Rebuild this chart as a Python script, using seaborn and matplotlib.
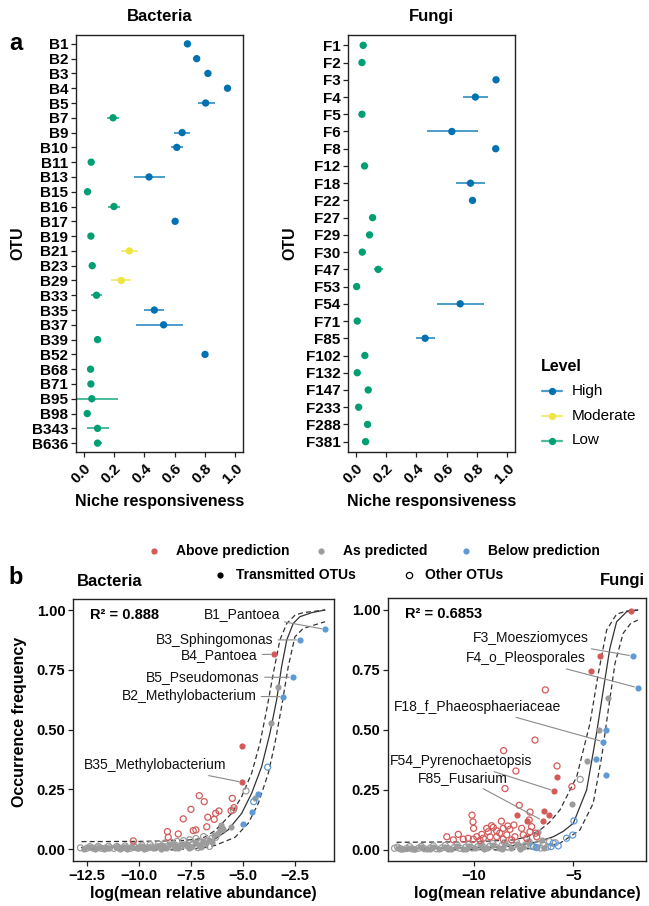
import matplotlib
matplotlib.use("Agg")
import matplotlib.pyplot as plt
from matplotlib.lines import Line2D
import pandas as pd
import seaborn as sns

sns.set_theme(style="ticks")
plt.rcParams['font.family'] = ['Liberation Sans', 'DejaVu Sans']
plt.rcParams['text.color'] = 'black'
plt.rcParams['axes.labelcolor'] = 'black'
plt.rcParams['axes.linewidth'] = 1.0
plt.rcParams['axes.edgecolor'] = '#222222'
plt.rcParams['xtick.color'] = '#222222'
plt.rcParams['ytick.color'] = '#222222'
plt.rcParams['xtick.major.size'] = 3.5
plt.rcParams['ytick.major.size'] = 3.5
plt.rcParams['xtick.major.width'] = 0.9
plt.rcParams['ytick.major.width'] = 0.9

# ---------------- Panel a data ----------------
bac_otus = ["B1", "B2", "B3", "B4", "B5", "B7", "B9", "B10", "B11", "B13", "B15", "B16", "B17", "B19",
            "B21", "B23", "B29", "B33", "B35", "B37", "B39", "B52", "B68", "B71", "B95", "B98", "B343", "B636"]
bac_resp = [0.684, 0.745, 0.819, 0.948, 0.804, 0.194, 0.649, 0.614, 0.050, 0.431, 0.026, 0.200, 0.603, 0.048,
            0.301, 0.057, 0.248, 0.085, 0.466, 0.527, 0.092, 0.800, 0.046, 0.048, 0.054, 0.024, 0.092, 0.092]
bac_lo = [0.678, 0.740, 0.813, 0.942, 0.754, 0.155, 0.597, 0.575, 0.045, 0.331, 0.021, 0.161, 0.598, 0.043,
          0.248, 0.050, 0.183, 0.048, 0.401, 0.342, 0.075, 0.795, 0.030, 0.035, -0.080, 0.019, 0.020, 0.075]
bac_hi = [0.690, 0.750, 0.825, 0.954, 0.863, 0.235, 0.704, 0.656, 0.055, 0.534, 0.031, 0.237, 0.608, 0.053,
          0.357, 0.064, 0.314, 0.122, 0.531, 0.654, 0.110, 0.805, 0.065, 0.060, 0.229, 0.029, 0.165, 0.120]
bac_level = ["High", "High", "High", "High", "High", "Low", "High", "High", "Low", "High", "Low", "Low", "High", "Low",
             "Moderate", "Low", "Moderate", "Low", "High", "High", "Low", "High", "Low", "Low", "Low", "Low", "Low", "Low"]

fun_otus = ["F1", "F2", "F3", "F4", "F5", "F6", "F8", "F12", "F18", "F22", "F27", "F29", "F30", "F47",
            "F53", "F54", "F71", "F85", "F102", "F132", "F147", "F233", "F288", "F381"]
fun_resp = [0.050, 0.042, 0.925, 0.789, 0.042, 0.634, 0.923, 0.059, 0.757, 0.770, 0.112, 0.092, 0.044, 0.149,
            0.007, 0.689, 0.011, 0.458, 0.061, 0.011, 0.083, 0.020, 0.079, 0.066]
fun_lo = [0.045, 0.037, 0.920, 0.706, 0.037, 0.469, 0.918, 0.054, 0.664, 0.765, 0.107, 0.087, 0.039, 0.120,
          0.002, 0.537, 0.006, 0.401, 0.040, 0.006, 0.078, 0.015, 0.074, 0.040]
fun_hi = [0.055, 0.047, 0.930, 0.873, 0.047, 0.803, 0.928, 0.064, 0.855, 0.775, 0.117, 0.097, 0.049, 0.180,
          0.012, 0.844, 0.016, 0.520, 0.085, 0.016, 0.088, 0.025, 0.084, 0.090]
fun_level = ["Low", "Low", "High", "High", "Low", "High", "High", "Low", "High", "High", "Low", "Low", "Low", "Low",
             "Low", "High", "Low", "High", "Low", "Low", "Low", "Low", "Low", "Low"]

level_order = ["High", "Moderate", "Low"]
level_colors = {"High": "#0072B2", "Moderate": "#F0E442", "Low": "#009E73"}
resp_ticks = [0.0, 0.2, 0.4, 0.6, 0.8, 1.0]

# ---------------- Panel b data ----------------
# Bacteria
bac_above_trans = [(-3.48, 0.815), (-5.02, 0.433), (-5.02, 0.280)]
bac_above_other = [(-7.09, 0.224), (-6.85, 0.199), (-7.49, 0.167), (-7.86, 0.127), (-6.30, 0.150), (-6.14, 0.160),
                   (-6.37, 0.125), (-6.68, 0.134), (-5.50, 0.213), (-5.42, 0.174), (-5.56, 0.161), (-8.62, 0.074),
                   (-8.58, 0.050), (-8.10, 0.064), (-7.38, 0.078), (-7.25, 0.081), (-10.26, 0.035), (-6.73, 0.094)]
bac_below_trans = [(-1.04, 0.919), (-2.25, 0.875), (-2.60, 0.719), (-3.05, 0.638), (-4.25, 0.230), (-4.54, 0.155),
                   (-5.00, 0.106)]
bac_below_other = [(-3.80, 0.343), (-4.47, 0.199)]
bac_pred_trans = [(-12.4, 0.008), (-12.1, 0.003), (-11.9, 0.010), (-11.5, 0.007), (-11.1, 0.009), (-10.9, 0.003),
                  (-10.7, 0.011), (-10.3, 0.010), (-10.1, 0.004), (-9.9, 0.012), (-9.5, 0.011), (-9.3, 0.004),
                  (-9.1, 0.015), (-8.9, 0.016), (-8.7, 0.005), (-8.5, 0.020), (-8.3, 0.018), (-8.1, 0.006),
                  (-7.9, 0.024), (-7.7, 0.022), (-7.5, 0.008), (-7.3, 0.030), (-7.1, 0.015), (-6.9, 0.035),
                  (-6.6, 0.040), (-6.4, 0.060), (-6.2, 0.070), (-6.1, 0.080), (-6.05, 0.100), (-6.0, 0.090),
                  (-5.95, 0.085), (-5.56, 0.094), (-4.41, 0.216), (-3.64, 0.529), (-3.29, 0.677),
                  (-12.65, 0.002), (-11.65, 0.002), (-10.55, 0.002), (-9.75, 0.003), (-8.95, 0.002), (-8.25, 0.004),
                  (-7.6, 0.004), (-7.0, 0.010), (-6.75, 0.025), (-6.5, 0.030)]
bac_pred_other = [(-12.8, 0.006), (-12.5, 0.004), (-12.2, 0.005), (-12.0, 0.006), (-11.8, 0.004), (-11.6, 0.005),
                  (-11.4, 0.006), (-11.2, 0.004), (-11.0, 0.007), (-10.8, 0.005), (-10.6, 0.006), (-10.4, 0.004),
                  (-10.2, 0.008), (-10.0, 0.005), (-9.8, 0.007), (-9.6, 0.005), (-9.4, 0.009), (-9.2, 0.006),
                  (-9.0, 0.011), (-8.8, 0.007), (-8.6, 0.013), (-8.4, 0.008), (-8.2, 0.016), (-8.0, 0.010),
                  (-7.8, 0.018), (-7.6, 0.012), (-7.4, 0.022), (-7.16, 0.007), (-7.0, 0.028), (-6.88, 0.053),
                  (-6.7, 0.035), (-6.5, 0.045), (-6.3, 0.050), (-5.45, 0.164), (-4.84, 0.244),
                  (-12.35, 0.011), (-11.95, 0.012), (-11.45, 0.013), (-11.05, 0.012), (-10.65, 0.014),
                  (-10.25, 0.016), (-9.85, 0.017), (-9.45, 0.019), (-9.05, 0.022), (-8.75, 0.026), (-8.45, 0.030),
                  (-8.15, 0.033), (-7.85, 0.036), (-7.55, 0.040), (-7.25, 0.045), (-6.95, 0.020), (-6.6, 0.012)]
bac_fit_x = [-12.75, -10.0, -8.0, -7.2, -6.6, -6.3, -5.7, -5.05, -4.57, -4.09, -3.69, -3.37, -3.13, -2.88,
             -2.57, -2.25, -1.68, -1.04]
bac_fit_y = [0.008, 0.009, 0.012, 0.018, 0.030, 0.045, 0.081, 0.150, 0.234, 0.345, 0.485, 0.624, 0.763, 0.875,
             0.944, 0.972, 0.989, 1.000]
bac_upr_x = [-12.75, -10.0, -8.0, -7.2, -6.8, -6.33, -5.53, -5.05, -4.57, -4.17, -3.85, -3.53, -3.21, -2.88,
             -2.48, -2.09, -1.04]
bac_upr_y = [0.032, 0.033, 0.036, 0.042, 0.052, 0.078, 0.150, 0.220, 0.318, 0.443, 0.582, 0.735, 0.875, 0.944,
             0.979, 0.989, 1.000]
bac_lwr_x = [-12.75, -8.0, -7.0, -6.33, -5.37, -4.73, -4.25, -3.77, -3.45, -3.13, -2.81, -2.49, -2.09, -1.04]
bac_lwr_y = [0.000, 0.000, 0.004, 0.016, 0.050, 0.109, 0.192, 0.318, 0.443, 0.596, 0.763, 0.888, 0.923, 0.951]
bac_labels = ["B1_Pantoea", "B3_Sphingomonas", "B4_Pantoea", "B5_Pseudomonas", "B2_Methylobacterium",
              "B35_Methylobacterium"]
bac_label_pts = [(-1.04, 0.919), (-2.25, 0.875), (-3.48, 0.815), (-2.60, 0.719), (-3.05, 0.638), (-5.02, 0.280)]
bac_label_pos = [(-3.21, 0.983), (-3.53, 0.875), (-4.28, 0.812), (-4.17, 0.719), (-4.33, 0.639), (-5.77, 0.352)]

# Fungi
fun_above_trans = [(-2.11, 0.997), (-3.66, 0.808), (-4.13, 0.747), (-5.84, 0.303), (-5.96, 0.246), (-6.46, 0.161),
                   (-6.24, 0.146), (-6.54, 0.122), (-7.82, 0.147), (-7.35, 0.120)]
fun_above_other = [(-6.41, 0.667), (-6.93, 0.458), (-8.51, 0.414), (-7.89, 0.329), (-8.44, 0.256), (-5.82, 0.350),
                   (-7.72, 0.186), (-7.18, 0.158), (-5.07, 0.264), (-10.10, 0.145), (-10.05, 0.117), (-10.02, 0.090),
                   (-8.62, 0.120), (-9.12, 0.101), (-11.37, 0.055), (-10.79, 0.065), (-9.36, 0.090), (-9.28, 0.076),
                   (-9.03, 0.094), (-8.86, 0.080), (-8.53, 0.090), (-8.19, 0.086), (-7.99, 0.104), (-7.60, 0.090),
                   (-7.22, 0.125), (-7.10, 0.097), (-7.18, 0.076), (-9.61, 0.065), (-9.86, 0.055), (-10.29, 0.049),
                   (-10.54, 0.045), (-11.04, 0.042), (-8.35, 0.063), (-7.94, 0.055), (-6.84, 0.055), (-8.10, 0.042),
                   (-8.86, 0.055), (-9.19, 0.055), (-9.53, 0.049), (-10.03, 0.045), (-8.53, 0.045), (-7.52, 0.063),
                   (-7.35, 0.049), (-8.70, 0.070), (-9.70, 0.040), (-8.30, 0.100), (-6.90, 0.070)]
fun_below_trans = [(-2.01, 0.808), (-1.76, 0.676), (-3.37, 0.500), (-3.49, 0.451), (-3.86, 0.380), (-3.36, 0.311)]
fun_below_other = [(-4.97, 0.121), (-5.03, 0.062), (-5.34, 0.049), (-6.01, 0.028), (-5.76, 0.017), (-6.12, 0.014),
                   (-6.84, 0.010), (-7.00, 0.014)]
fun_pred_trans = [(-13.85, 0.010), (-13.55, 0.003), (-13.25, 0.009), (-12.95, 0.004), (-12.65, 0.011),
                  (-12.35, 0.004), (-12.05, 0.012), (-11.75, 0.005), (-11.45, 0.014), (-11.15, 0.006),
                  (-10.85, 0.016), (-10.55, 0.006), (-10.25, 0.018), (-9.95, 0.007), (-9.65, 0.020), (-9.35, 0.008),
                  (-9.05, 0.022), (-8.75, 0.009), (-8.45, 0.024), (-8.15, 0.010), (-7.85, 0.026), (-7.55, 0.012),
                  (-7.25, 0.030), (-7.21, 0.039), (-6.95, 0.014), (-6.76, 0.074), (-6.60, 0.040), (-5.08, 0.190),
                  (-4.33, 0.372), (-3.69, 0.500), (-3.24, 0.635),
                  (-13.7, 0.002), (-13.0, 0.002), (-12.2, 0.002), (-11.3, 0.002), (-10.4, 0.003), (-9.5, 0.003),
                  (-8.6, 0.003), (-7.7, 0.004), (-6.5, 0.010)]
fun_pred_other = [(-14.0, 0.007), (-13.7, 0.005), (-13.4, 0.006), (-13.1, 0.004), (-12.8, 0.007), (-12.5, 0.005),
                  (-12.2, 0.008), (-11.9, 0.005), (-11.6, 0.009), (-11.3, 0.006), (-11.0, 0.010), (-10.7, 0.007),
                  (-10.4, 0.012), (-10.1, 0.008), (-9.8, 0.014), (-9.5, 0.009), (-9.2, 0.016), (-8.9, 0.010),
                  (-8.6, 0.018), (-8.3, 0.012), (-8.0, 0.020), (-7.7, 0.014), (-7.4, 0.022), (-7.1, 0.016),
                  (-6.8, 0.025), (-6.5, 0.020), (-6.2, 0.035), (-5.9, 0.030), (-4.65, 0.294),
                  (-13.85, 0.012), (-13.25, 0.014), (-12.65, 0.015), (-12.05, 0.017), (-11.45, 0.019),
                  (-10.85, 0.021), (-10.25, 0.023), (-9.65, 0.025), (-9.05, 0.027), (-8.45, 0.029),
                  (-7.85, 0.031), (-7.25, 0.033), (-6.65, 0.008), (-6.3, 0.012)]
fun_fit_x = [-13.9, -10.0, -8.5, -7.68, -6.8, -6.01, -5.5, -5.0, -4.33, -3.83, -3.49, -3.16, -2.82, -2.31, -1.75]
fun_fit_y = [0.007, 0.009, 0.013, 0.021, 0.034, 0.055, 0.078, 0.111, 0.250, 0.486, 0.667, 0.840, 0.951, 0.993, 1.000]
fun_upr_x = [-13.9, -10.0, -8.0, -7.3, -6.68, -6.2, -5.67, -4.83, -4.16, -3.74, -3.32, -2.82, -2.3, -1.75]
fun_upr_y = [0.032, 0.034, 0.042, 0.055, 0.083, 0.115, 0.167, 0.305, 0.528, 0.736, 0.917, 0.983, 0.996, 1.000]
fun_lwr_x = [-13.9, -8.0, -6.84, -5.67, -4.67, -4.00, -3.57, -3.24, -2.90, -2.49, -2.1, -1.75]
fun_lwr_y = [0.000, 0.002, 0.007, 0.028, 0.083, 0.194, 0.389, 0.583, 0.778, 0.903, 0.945, 0.958]
fun_labels = ["F3_Moesziomyces", "F4_o_Pleosporales", "F18_f_Phaeosphaeriaceae", "F54_Pyrenochaetopsis",
              "F85_Fusarium"]
fun_label_pts = [(-2.01, 0.808), (-1.76, 0.676), (-3.49, 0.451), (-5.96, 0.246), (-6.54, 0.122)]
fun_label_pos = [(-4.20, 0.882), (-4.36, 0.799), (-5.59, 0.597), (-7.08, 0.371), (-8.30, 0.301)]

class_colors = {"Above prediction": "#D45A5A", "As predicted": "#9C9C9C", "Below prediction": "#5E9AD6"}

W, H = 649, 906
fig = plt.figure(figsize=(W / 100, H / 100), dpi=100)


def add_ax(l, t, r, b):
    return fig.add_axes([l / W, 1 - b / H, (r - l) / W, (b - t) / H])


def fx(px):
    return px / W


def fy(py):
    return 1 - py / H


def bold_ticks(ax):
    for lab in ax.get_xticklabels() + ax.get_yticklabels():
        lab.set_fontweight('bold')
        lab.set_color('black')


def niche_panel(ax, otus, resp, lo, hi, level):
    df = pd.DataFrame(dict(otu=otus, resp=resp, lo=lo, hi=hi, level=level))
    sns.scatterplot(data=df, x="resp", y="otu", hue="level", hue_order=level_order, palette=level_colors,
                    s=28, linewidth=0, legend=False, ax=ax, zorder=3)
    for lev in level_order:
        sub = df[df["level"] == lev]
        if len(sub):
            ax.hlines(sub["otu"], sub["lo"], sub["hi"], color=level_colors[lev], alpha=0.7, lw=1.4, zorder=2)
    n = len(otus)
    ax.set_ylim(n - 0.4, -0.6)
    ax.set_xlim(-0.05, 1.05)
    ax.set_xticks(resp_ticks)
    ax.set_xticklabels([f"{t:.1f}" for t in resp_ticks], rotation=45, ha="right", va="top",
                       rotation_mode="anchor", fontsize=11)
    ax.tick_params(axis="y", labelsize=11, pad=2)
    ax.tick_params(axis="x", pad=3)
    ax.set_xlabel("Niche responsiveness", fontsize=11.5, fontweight="bold")
    ax.set_ylabel("OTU", fontsize=11.5, fontweight="bold")
    ax.xaxis.set_label_coords(0.5, -0.1)
    ax.yaxis.set_label_coords(-0.35, 0.5)
    ax.yaxis.label.set_va("center")
    bold_ticks(ax)


ax_a1 = add_ax(76, 35, 243, 452)
niche_panel(ax_a1, bac_otus, bac_resp, bac_lo, bac_hi, bac_level)
ax_a2 = add_ax(348, 35, 515, 452)
niche_panel(ax_a2, fun_otus, fun_resp, fun_lo, fun_hi, fun_level)
ax_a2.yaxis.set_label_coords(-0.347, 0.5)

fig.text(fx(159.5), fy(16.5), "Bacteria", ha="center", va="center", fontsize=12, fontweight="bold")
fig.text(fx(431), fy(17), "Fungi", ha="center", va="center", fontsize=12, fontweight="bold")
fig.text(fx(15.5), fy(43), "a", ha="center", va="center", fontsize=17, fontweight="bold")
fig.text(fx(15.5), fy(578), "b", ha="center", va="center", fontsize=17, fontweight="bold")

# Level legend
fig.text(fx(540.5), fy(366), "Level", ha="left", va="center", fontsize=11.5, fontweight="bold")
for i, lev in enumerate(level_order):
    yy = [390.5, 415.5, 440.5][i]
    fig.add_artist(Line2D([fx(541.5), fx(561.5)], [fy(yy), fy(yy)], transform=fig.transFigure,
                          color=level_colors[lev], alpha=0.7, lw=1.6))
    fig.add_artist(Line2D([fx(551.5)], [fy(yy)], transform=fig.transFigure, marker="o", ms=5.2,
                          color=level_colors[lev], mew=0, lw=0))
    fig.text(fx(571.5), fy(yy), lev, ha="left", va="center", fontsize=11)


def neutral_panel(ax, above_t, above_o, pred_t, pred_o, below_t, below_o,
                  fit, upr, lwr, labels, label_pts, label_pos, r2, xlim, ylim, xticks):
    sns.lineplot(x=upr[0], y=upr[1], sort=False, estimator=None, color="#333333", lw=0.9, ls=(0, (4, 2.5)),
                 ax=ax, zorder=2)
    sns.lineplot(x=lwr[0], y=lwr[1], sort=False, estimator=None, color="#333333", lw=0.9, ls=(0, (4, 2.5)),
                 ax=ax, zorder=2)
    sns.lineplot(x=fit[0], y=fit[1], sort=False, estimator=None, color="#333333", lw=0.9, ax=ax, zorder=2)
    groups = [(pred_o, "As predicted", False), (pred_t, "As predicted", True),
              (above_o, "Above prediction", False), (below_o, "Below prediction", False),
              (above_t, "Above prediction", True), (below_t, "Below prediction", True)]
    for pts, cls, filled in groups:
        d = pd.DataFrame(pts, columns=["x", "y"])
        c = class_colors[cls]
        if filled:
            sns.scatterplot(data=d, x="x", y="y", color=c, s=20, linewidth=0, ax=ax, zorder=3)
        else:
            sns.scatterplot(data=d, x="x", y="y", facecolor="none", edgecolor=c, color=c, s=19,
                            linewidth=0.9, ax=ax, zorder=3)
    for lab, pt, pos in zip(labels, label_pts, label_pos):
        ax.annotate(lab, xy=pt, xytext=pos, ha="right", va="center", fontsize=10, color="#111111",
                    arrowprops=dict(arrowstyle="-", color="#8a8a8a", lw=0.8, shrinkA=1, shrinkB=2.5),
                    zorder=4)
    ax.text(0.065, 0.94, r2, transform=ax.transAxes, ha="left", va="center", fontsize=10.5, fontweight="bold")
    ax.set_xlim(*xlim)
    ax.set_ylim(*ylim)
    ax.set_xticks(xticks)
    ax.set_xticklabels(["\u2212" + f"{abs(t):g}" if t < 0 else f"{t:g}" for t in xticks])
    ax.set_yticks([0.0, 0.25, 0.5, 0.75, 1.0])
    ax.set_yticklabels(["0.00", "0.25", "0.50", "0.75", "1.00"])
    ax.tick_params(labelsize=10.5, pad=2)
    ax.set_xlabel("log(mean relative abundance)", fontsize=11.5, fontweight="bold")
    ax.set_ylabel("Occurrence frequency", fontsize=11.5, fontweight="bold")
    bold_ticks(ax)


ax_b1 = add_ax(73, 599, 334, 861)
neutral_panel(ax_b1, bac_above_trans, bac_above_other, bac_pred_trans, bac_pred_other,
              bac_below_trans, bac_below_other, (bac_fit_x, bac_fit_y), (bac_upr_x, bac_upr_y),
              (bac_lwr_x, bac_lwr_y), bac_labels, bac_label_pts, bac_label_pos, "R\u00b2 = 0.888",
              (-13.16, -0.61), (-0.049, 1.046), [-12.5, -10.0, -7.5, -5.0, -2.5])
ax_b1.set_xticklabels(["\u221212.5", "\u221210.0", "\u22127.5", "\u22125.0", "\u22122.5"])
bold_ticks(ax_b1)
ax_b1.xaxis.set_label_coords(0.5, -0.095)
ax_b1.yaxis.set_label_coords(-0.205, 0.53)
ax_b1.yaxis.label.set_va("center")

ax_b2 = add_ax(388, 598, 646, 861)
neutral_panel(ax_b2, fun_above_trans, fun_above_other, fun_pred_trans, fun_pred_other,
              fun_below_trans, fun_below_other, (fun_fit_x, fun_fit_y), (fun_upr_x, fun_upr_y),
              (fun_lwr_x, fun_lwr_y), fun_labels, fun_label_pts, fun_label_pos, "R\u00b2 = 0.6853",
              (-14.33, -1.34), (-0.046, 1.05), [-10, -5])
ax_b2.set_ylabel("")
ax_b2.xaxis.set_label_coords(0.54, -0.095)

fig.text(fx(77), fy(582), "Bacteria", ha="left", va="center", fontsize=12, fontweight="bold")
fig.text(fx(645), fy(581), "Fungi", ha="right", va="center", fontsize=12, fontweight="bold")

# top legend for panel b
row1 = [(153.8, 175.6, "Above prediction"), (320.8, 342.6, "As predicted"), (465.7, 487.8, "Below prediction")]
for xm, xt, lab in row1:
    fig.add_artist(Line2D([fx(xm)], [fy(551)], transform=fig.transFigure, marker="o", ms=4.5,
                          color=class_colors[lab], mew=0, lw=0))
    fig.text(fx(xt), fy(551), lab, ha="left", va="center", fontsize=10, fontweight="bold")
fig.add_artist(Line2D([fx(220.3)], [fy(575)], transform=fig.transFigure, marker="o", ms=4.5,
                      color="black", mew=0, lw=0))
fig.text(fx(236.4), fy(575), "Transmitted OTUs", ha="left", va="center", fontsize=10, fontweight="bold")
fig.add_artist(Line2D([fx(409.4)], [fy(575)], transform=fig.transFigure, marker="o", ms=4.5,
                      markerfacecolor="none", markeredgecolor="black", mew=0.9, lw=0))
fig.text(fx(425.2), fy(575), "Other OTUs", ha="left", va="center", fontsize=10, fontweight="bold")

fig.savefig("out.png", dpi=100)
